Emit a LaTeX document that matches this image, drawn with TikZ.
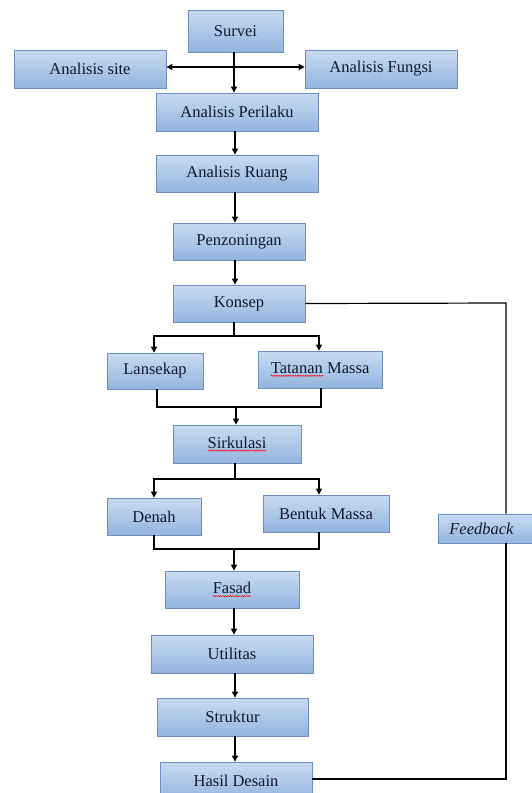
\documentclass[tikz,border=0pt]{standalone}
\usepackage{fontspec}
\setmainfont{Liberation Serif}
\usetikzlibrary{arrows.meta,shadows,decorations.pathmorphing}
\definecolor{boxtop}{HTML}{C9DBF2}
\definecolor{boxbot}{HTML}{93B4DE}
\definecolor{boxline}{HTML}{6E8EC0}
\definecolor{boxtext}{HTML}{121A33}
\newcommand\spellerr[1]{\tikz[baseline=(w.base), y=1pt]{%
  \node[inner sep=0pt, outer sep=0pt, minimum width=0pt, minimum height=0pt, draw=none] (w) {#1};
  \draw[red, line width=0.5pt, decorate, decoration={snake, amplitude=0.6pt, segment length=2.4pt}]
    ([yshift=-2.6pt]w.base west) -- ([yshift=-2.6pt]w.base east);}}
\tikzset{
  stepbox/.style={draw=boxline, line width=0.8pt, top color=boxtop, bottom color=boxbot,
    text=boxtext, font=\fontsize{16.5}{19}\selectfont, inner sep=0pt,
    drop shadow={opacity=0.25, shadow xshift=1.2pt, shadow yshift=-1.2pt}},
  flow/.style={line width=1.2pt, -{Triangle[width=6pt,length=6pt]}},
  link/.style={line width=1.2pt}
}
\begin{document}
\begin{tikzpicture}[x=1pt,y=-1pt]
      \useasboundingbox (0,0) rectangle (532,793);
      \clip (0,0) rectangle (532,793);
      \fill[white] (0,0) rectangle (532,793);
      \draw
        (235.5,31) node[stepbox, minimum width=95, minimum height=42] (survei){Survei}
        (90,69) node[stepbox, minimum width=152, minimum height=38] (site){Analisis site}
        (381,69) node[stepbox, minimum width=152, minimum height=38] (fungsi){Analisis Fungsi}
        (237,112) node[stepbox, minimum width=162, minimum height=38] (perilaku){Analisis Perilaku}
        (237,173.5) node[stepbox, minimum width=162, minimum height=37] (ruang){Analisis Ruang}
        (239,241.5) node[stepbox, minimum width=132, minimum height=37] (zoning){Penzoningan}
        (239,303.5) node[stepbox, minimum width=132, minimum height=37] (konsep){Konsep}
        (155,371) node[stepbox, minimum width=96, minimum height=36] (lansekap){Lansekap}
        (320,369.5) node[stepbox, minimum width=124, minimum height=37] (tatanan){\spellerr{Tatanan} Massa}
        (237,444) node[stepbox, minimum width=128, minimum height=38] (sirkulasi){\spellerr{Sirkulasi}}
        (154,516.5) node[stepbox, minimum width=94, minimum height=37] (denah){Denah}
        (326,513.5) node[stepbox, minimum width=126, minimum height=37] (bentuk){Bentuk Massa}
        (438,528.5) node[stepbox, anchor=west, text width=80, inner xsep=11, align=left,
          minimum height=29, font=\fontsize{16.5}{19}\selectfont\itshape] (feedback){Feedback}
        (232,589.5) node[stepbox, minimum width=134, minimum height=37] (fasad){\spellerr{Fasad}}
        (232,654) node[stepbox, minimum width=162, minimum height=38] (utilitas){Utilitas}
        (232.5,717) node[stepbox, minimum width=151, minimum height=38] (struktur){Struktur}
        (236,781) node[stepbox, minimum width=152, minimum height=38] (hasil){Hasil Desain};
      % branch points
      \coordinate (top) at (234,67);
      \coordinate (split1) at (234,336);
      \coordinate (join1) at (236,407);
      \coordinate (split2) at (235,479);
      \coordinate (join2) at (234,549);
      \coordinate (fbtop) at (506,303);
      \coordinate (fbbot) at (506,779);
      \begin{scope}[flow]
        \draw (survei.south -| top) to (perilaku.north -| top);
        \draw[{Triangle[width=6pt,length=6pt]}-{Triangle[width=6pt,length=6pt]}]
          (site.east |- top) to (fungsi.west |- top);
        \draw (perilaku.south -| 235,0) to (ruang.north -| 235,0);
        \draw (ruang.south -| 235,0) to (zoning.north -| 235,0);
        \draw (zoning.south -| 235,0) to (konsep.north -| 235,0);
        \draw (split1) -| (lansekap.north -| 154,0);
        \draw (split1) -| (tatanan.north -| 319,0);
        \draw (join1) to (sirkulasi.north -| join1);
        \draw (split2) -| (denah.north);
        \draw (split2) -| (bentuk.north -| 319,0);
        \draw (join2) to (fasad.north -| join2);
        \draw (fasad.south -| 234,0) to (utilitas.north -| 234,0);
        \draw (utilitas.south -| 235,0) to (struktur.north -| 235,0);
        \draw (struktur.south -| 235,0) to (hasil.north -| 235,0);
      \end{scope}
      \begin{scope}[link]
        \draw (konsep.south -| split1) to (split1);
        \draw (lansekap.south -| 157,0) |- (join1) -| (tatanan.south -| 321,0);
        \draw (sirkulasi.south -| split2) to (split2);
        \draw (denah.south) |- (join2) -| (bentuk.south -| 319,0);
        \draw (konsep.east) to (fbtop) to (feedback.north -| fbtop);
        \draw (feedback.south -| fbtop) to (fbbot) to (hasil.east |- fbbot);
      \end{scope}
    \end{tikzpicture}
\end{document}
